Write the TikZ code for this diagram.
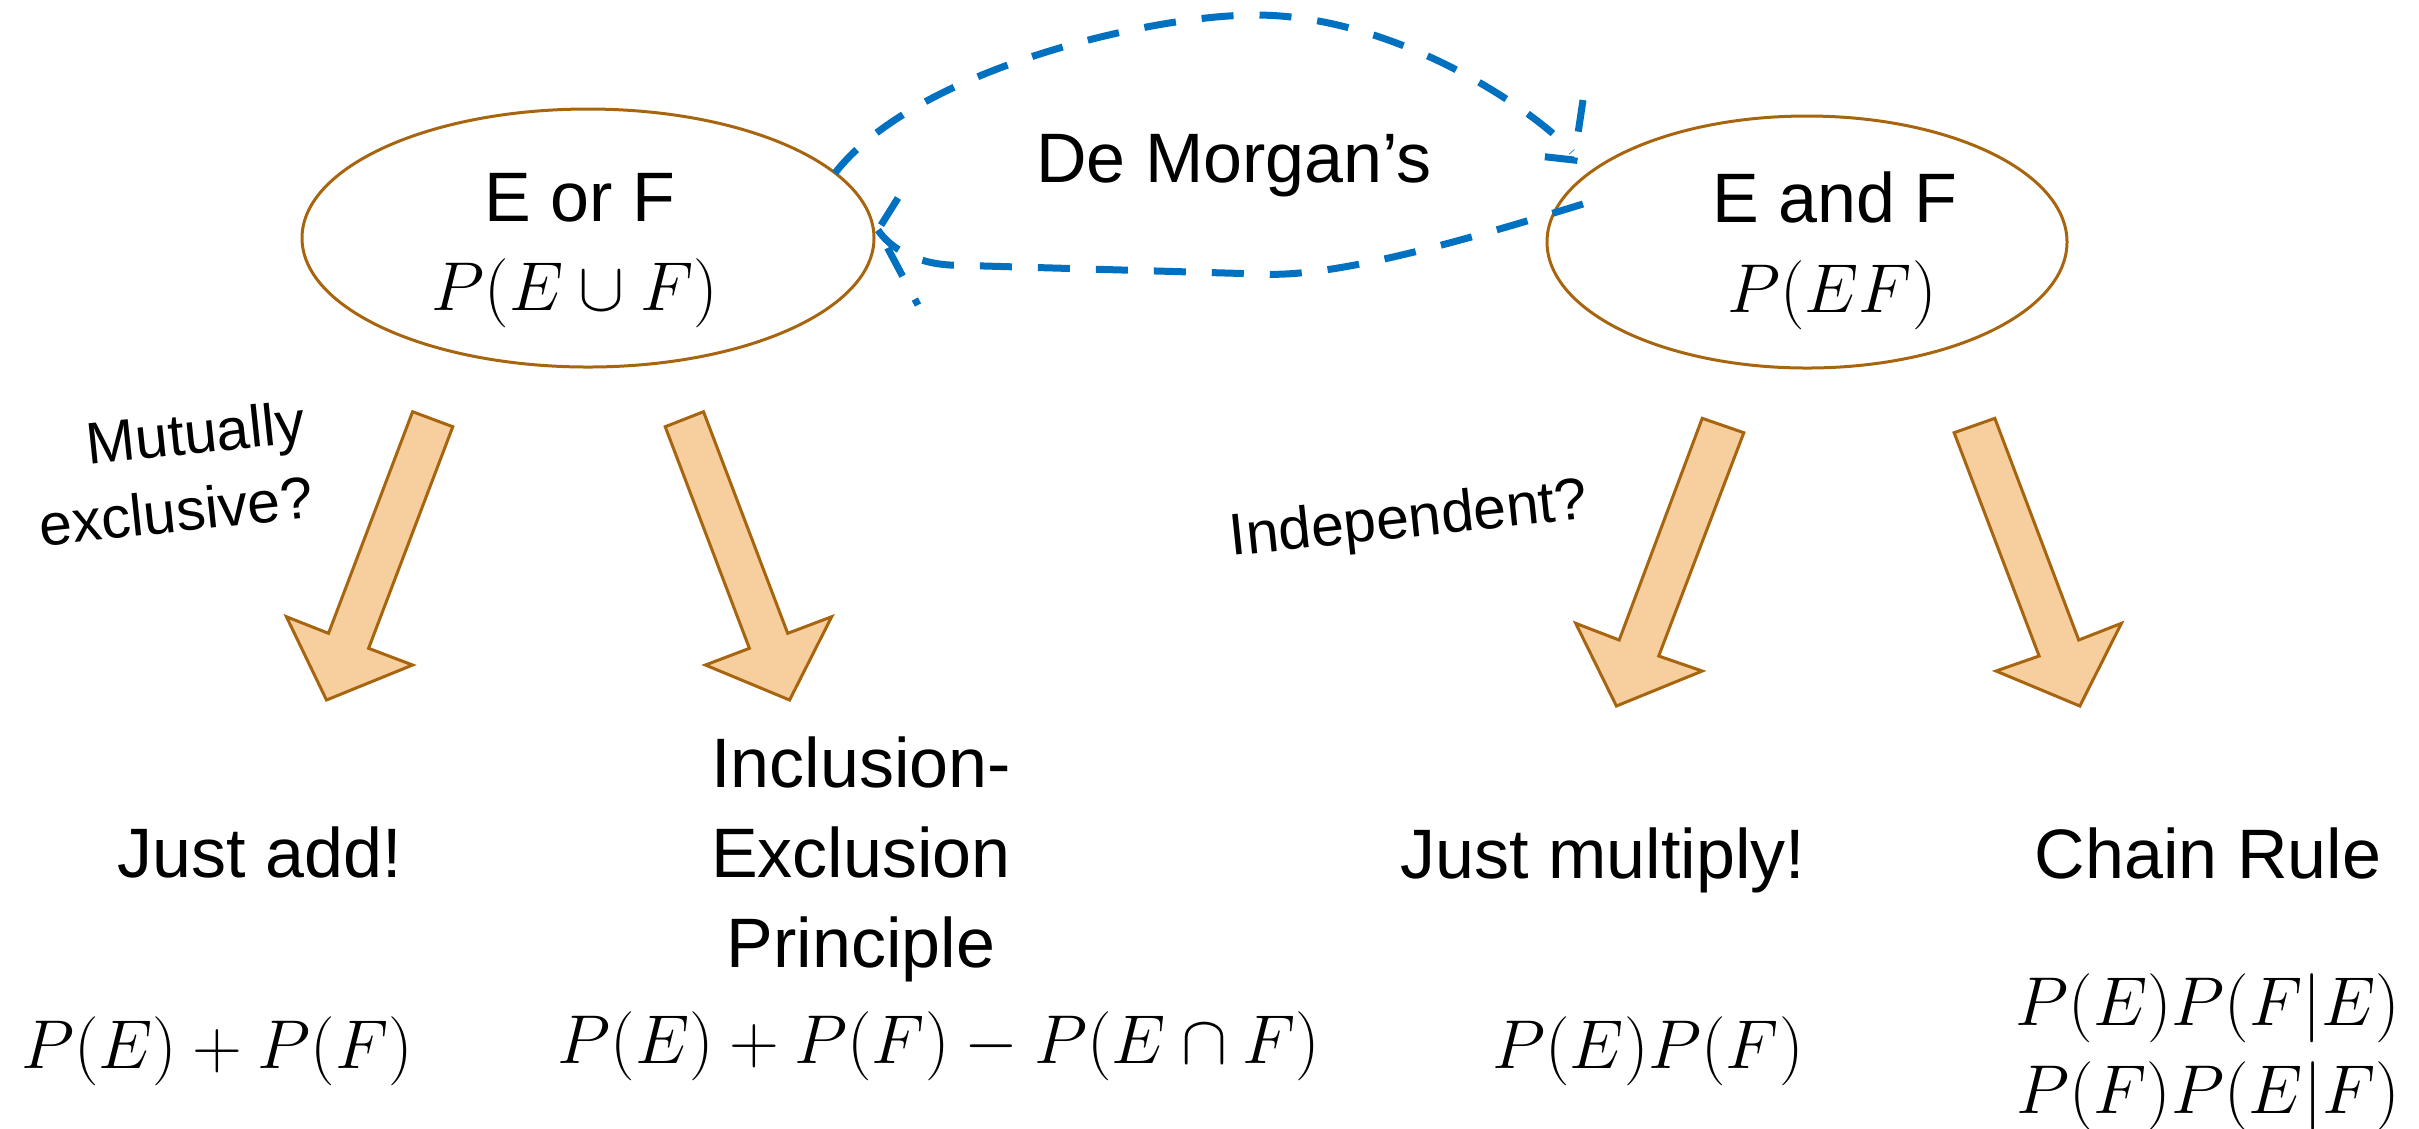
\documentclass[tikz,border=0pt]{standalone}
\usepackage[no-math]{fontspec}
\setmainfont{Liberation Sans}
\usetikzlibrary{shapes.geometric}
\definecolor{brn}{HTML}{A8650F}
\definecolor{peach}{HTML}{F7CE9E}
\definecolor{dblue}{HTML}{0070C0}
\tikzset{
  txt/.style={font=\fontsize{17.5}{22.5}\selectfont, inner sep=0pt, anchor=base},
  mth/.style={font=\fontsize{18}{22}\selectfont, inner sep=0pt, anchor=base},
  sml/.style={font=\fontsize{14.7}{19}\selectfont, inner sep=0pt, align=right, rotate=6},
  ell/.style={ellipse, draw=brn, line width=0.75pt, inner sep=0pt},
  blk/.style={fill=peach, draw=brn, line width=0.75pt, line join=miter},
  dsh/.style={draw=dblue, line width=1.75pt, dash pattern=on 8pt off 6.5pt}
}
\begin{document}
\begin{tikzpicture}[x=0.25pt,y=-0.25pt]
\useasboundingbox (0,0) rectangle (2419,1128);

% ellipses
\node[ell, minimum width=143pt, minimum height=64.5pt] (eor) at (588,238) {};
\node[ell, minimum width=130pt, minimum height=63pt] (eand) at (1807,242) {};
\node[txt] (eorT) at (580,221) {E or F};
\node[mth] (eorM) at (575,310) {$P(E\cup F)$};
\node[txt] (eandT) at (1835,222) {E and F};
\node[mth] (eandM) at (1832,312) {$P(EF)$};

% De Morgan
\node[txt] (dm) at (1234,182) {De Morgan’s};
\coordinate (tA) at (835,173);
\coordinate (tB) at (1255,15);
\coordinate (tC) at (1572,152);
\coordinate (tTip) at (1574,160);
\coordinate (bA) at (1583,204);
\coordinate (bTip) at (878,230);
\draw[dsh] (tA) .. controls (915,70) and (1150,15) .. (tB)
  .. controls (1400,15) and (1540,115) .. (tC);
\draw[dsh] (1583,100) -- (tTip) -- (1520,154);
\draw[dsh] (bA) .. controls (1450,245) and (1330,278) .. (1260,274)
  -- (950,265) .. controls (915,263) and (890,248) .. (bTip);
\draw[dsh] (898,198) -- (bTip) -- (918,305);

% block arrows
\draw[blk] (412.6,411.7) -- (452.8,426.7) -- (368.6,648.3) -- (412.6,665) -- (326.5,700) -- (286.4,616.7) -- (328.5,633.3) -- cycle;
\draw[blk] (665.2,426.7) -- (703.5,411.7) -- (787.7,633.3) -- (831.7,616.7) -- (789.6,700) -- (705.4,665) -- (749.4,648.3) -- cycle;
\draw[blk] (1702.2,418.3) -- (1743.8,432.7) -- (1658.7,656) -- (1702.2,671) -- (1616.4,706) -- (1575.7,623.3) -- (1619.2,640) -- cycle;
\draw[blk] (1954.1,432.7) -- (1994.8,418.3) -- (2078.7,640) -- (2121.4,623.3) -- (2079.8,706) -- (1996,671) -- (2039.1,656) -- cycle;

% side labels
\node[sml] (mex) at (172,473) {Mutually\\exclusive?};
\node[sml] (ind) at (1409,522) {Independent?};

% bottom texts
\node[txt] (ja) at (260,877) {Just add!};
\node[mth] (jaM) at (217,1068) {$P(E)+P(F)$};
\node[txt] (ie1) at (861,787) {Inclusion-};
\node[txt] (ie2) at (861,877) {Exclusion};
\node[txt] (ie3) at (861,967) {Principle};
\node[mth] (ieM) at (939,1063) {$P(E)+P(F)-P(E\cap F)$};
\node[txt] (jm) at (1603,878) {Just multiply!};
\node[mth] (jmM) at (1648,1068) {$P(E)P(F)$};
\node[txt] (cr) at (2208,878) {Chain Rule};
\node[mth] (crM1) at (2208,1025) {$P(E)P(F|E)$};
\node[mth] (crM2) at (2208,1113) {$P(F)P(E|F)$};
\end{tikzpicture}
\end{document}
